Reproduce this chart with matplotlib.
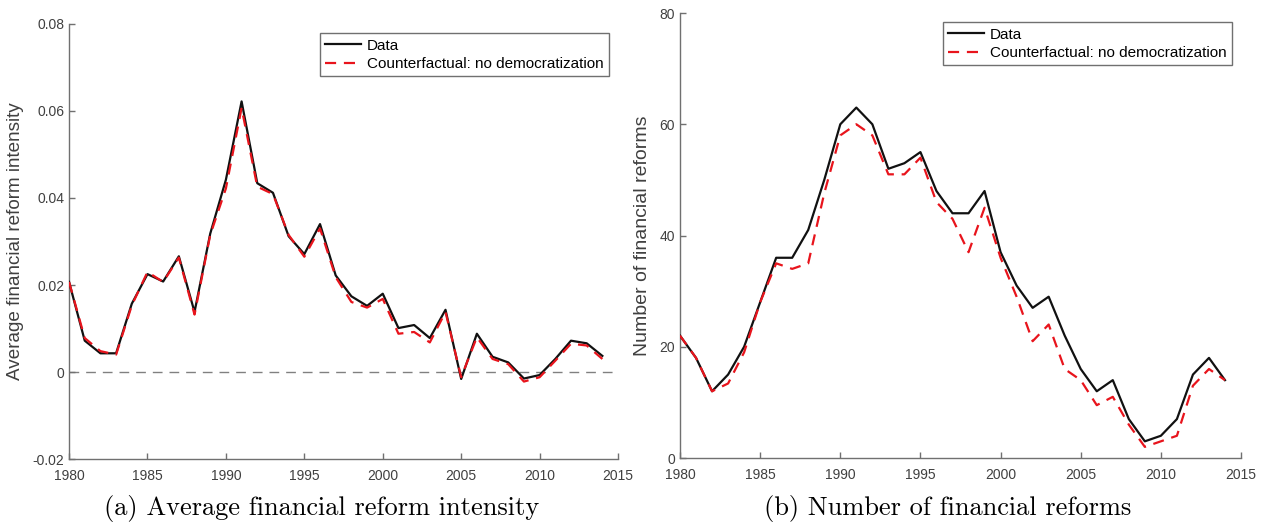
import numpy as np
import matplotlib
matplotlib.use("Agg")
import matplotlib.pyplot as plt

years = np.arange(1980, 2015)

# panel (a): average financial reform intensity
intensity_data = [0.0207, 0.0072, 0.0043, 0.0043, 0.0157, 0.0225, 0.0208, 0.0266, 0.0138,
                  0.0318, 0.0442, 0.0622, 0.0434, 0.0412, 0.0312, 0.0271, 0.0340, 0.0222,
                  0.0174, 0.0152, 0.0180, 0.0101, 0.0108, 0.0078, 0.0143, -0.0016, 0.0088,
                  0.0035, 0.0022, -0.0015, -0.0007, 0.0030, 0.0072, 0.0066, 0.0037]
intensity_cf = [0.0207, 0.0078, 0.0048, 0.0040, 0.0153, 0.0230, 0.0207, 0.0263, 0.0132,
                0.0315, 0.0422, 0.0607, 0.0426, 0.0409, 0.0315, 0.0265, 0.0330, 0.0218,
                0.0161, 0.0148, 0.0168, 0.0088, 0.0092, 0.0068, 0.0138, -0.0012, 0.0080,
                0.0030, 0.0018, -0.0022, -0.0012, 0.0026, 0.0065, 0.0061, 0.0030]

# panel (b): number of financial reforms
count_data = [22, 18, 12, 15, 20, 28, 36, 36, 41, 50, 60, 63, 60, 52, 53, 55, 48, 44,
              44, 48, 37, 31, 27, 29, 22, 16, 12, 14, 7, 3, 4, 7, 15, 18, 14]
count_cf = [22, 18, 12, 13.4, 19, 28, 35, 34, 35, 47.6, 58, 60, 58, 51, 51, 54, 46, 43,
            37, 45, 36, 29, 21, 24, 16, 14, 9.5, 11, 6, 2, 3, 4, 13, 16, 14]

labels = ["Data", "Counterfactual: no democratization"]
captions = ["(a) Average financial reform intensity", "(b) Number of financial reforms"]

sans = ["Liberation Sans", "DejaVu Sans"]
gray = "#404040"

fig = plt.figure(figsize=(12.67, 5.25), dpi=100)
ax1 = fig.add_axes([0.0545, 0.1257, 0.4333, 0.8286])
ax2 = fig.add_axes([0.5367, 0.1276, 0.4428, 0.8476])


def style(ax, ylabel, lsize):
    for s in ["top", "right"]:
        ax.spines[s].set_visible(False)
    for s in ["left", "bottom"]:
        ax.spines[s].set_color("#707070")
        ax.spines[s].set_linewidth(1.0)
    ax.tick_params(direction="in", length=4, width=1.0, color="#707070",
                   labelcolor=gray, labelsize=10)
    ax.tick_params(axis="x", pad=7)
    for lab in ax.get_xticklabels() + ax.get_yticklabels():
        lab.set_family(sans)
    ax.set_xlim(1980, 2015)
    ax.set_xticks(np.arange(1980, 2016, 5))
    ax.set_ylabel(ylabel, fontsize=lsize, color=gray, family=sans, labelpad=6)


def draw(ax, y_data, y_cf):
    ax.plot(years, y_data, color="#111111", lw=1.6, label=labels[0], zorder=3)
    ax.plot(years, y_cf, color="#e8141c", lw=1.6, dashes=(5, 3.5), label=labels[1], zorder=4)
    leg = ax.legend(loc="upper right", prop={"family": sans, "size": 11},
                    fancybox=False, framealpha=1, edgecolor="#707070",
                    borderpad=0.35, labelspacing=0.3, handlelength=2.35, handletextpad=0.4,
                    borderaxespad=0.6)
    leg.get_frame().set_linewidth(1.0)


draw(ax1, intensity_data, intensity_cf)
ax1.axhline(0, color="#808080", lw=1.0, dashes=(7, 5), zorder=1)
ax1.set_ylim(-0.02, 0.08)
ax1.set_yticks([-0.02, 0, 0.02, 0.04, 0.06, 0.08])
ax1.set_yticklabels(["-0.02", "0", "0.02", "0.04", "0.06", "0.08"])
style(ax1, "Average financial reform intensity", 13.6)

draw(ax2, count_data, count_cf)
ax2.set_ylim(0, 80)
ax2.set_yticks(np.arange(0, 81, 20))
style(ax2, "Number of financial reforms", 14)

fig.text(0.254, 0.032, captions[0], ha="center", va="center", family="cmr10", fontsize=19)
fig.text(0.748, 0.032, captions[1], ha="center", va="center", family="cmr10", fontsize=19)

fig.savefig("out.png", dpi=100)
